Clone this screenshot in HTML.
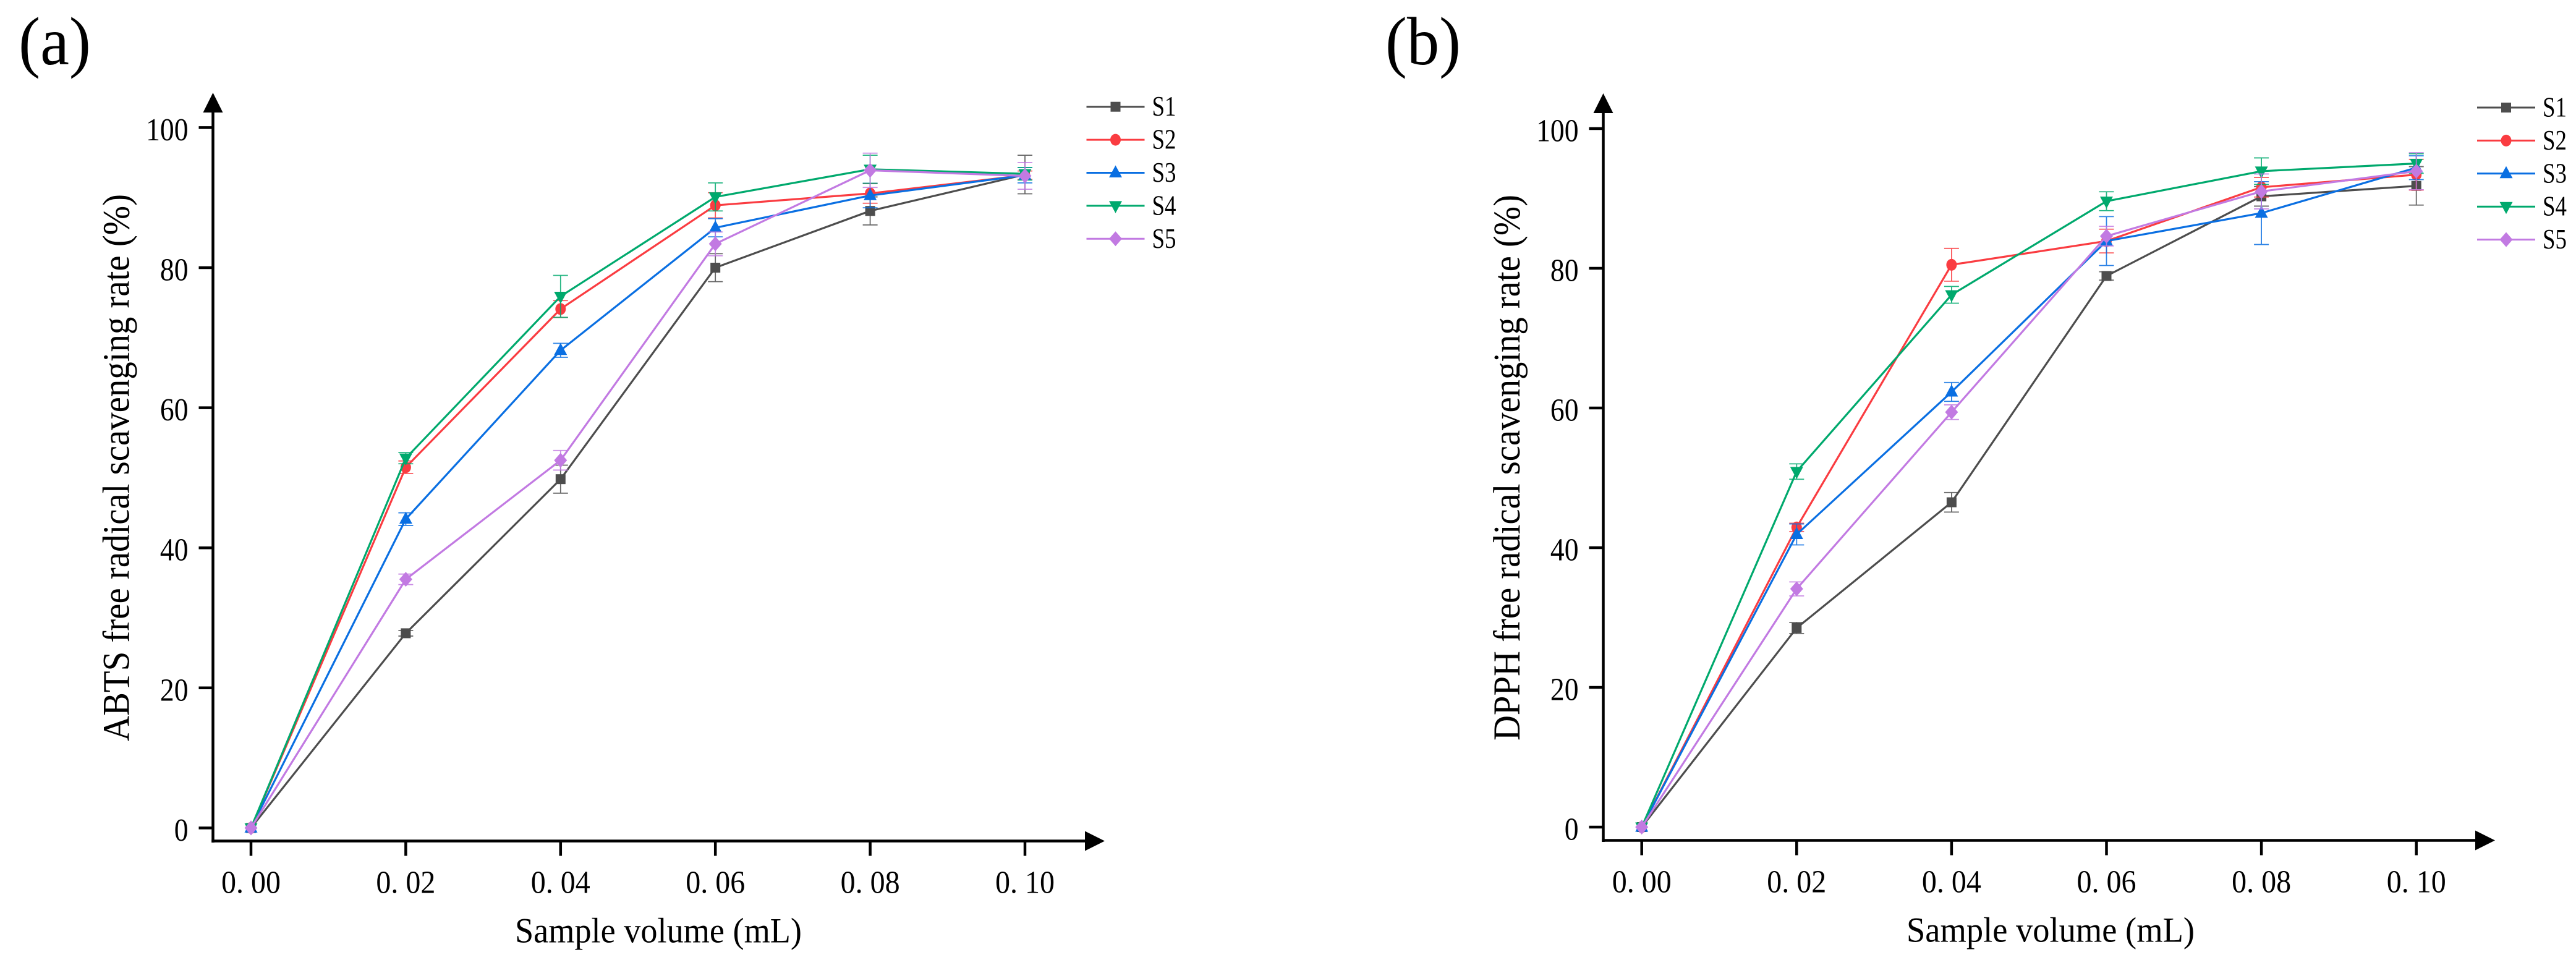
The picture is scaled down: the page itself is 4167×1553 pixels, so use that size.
<!DOCTYPE html>
<html lang="en">
<head>
<meta charset="utf-8">
<title>ABTS and DPPH free radical scavenging rate</title>
<style>
html,body{margin:0;padding:0;background:#fff;}
svg{display:block;}
text{font-family:"Liberation Serif","Times New Roman",serif;fill:#000;}
</style>
</head>
<body>
<svg id="figure" xmlns="http://www.w3.org/2000/svg" width="4167" height="1553" viewBox="0 0 4167 1553"></svg>
<script>
// Shared axis data
const xCategories = [0, 0.02, 0.04, 0.06, 0.08, 0.10];
const xTickLabels = ["0. 00", "0. 02", "0. 04", "0. 06", "0. 08", "0. 10"];
const yTicks = [0, 20, 40, 60, 80, 100];
const yTickLabels = ["0", "20", "40", "60", "80", "100"];
const seriesNames = ["S1", "S2", "S3", "S4", "S5"];

// Panel (a) ABTS: mean values
const abtsS1 = [0, 27.8, 49.8, 80.0, 88.1, 93.3];
const abtsS2 = [0, 51.5, 74.1, 88.9, 90.6, 93.2];
const abtsS3 = [0, 44.1, 68.2, 85.7, 90.3, 93.2];
const abtsS4 = [0, 52.8, 75.9, 90.1, 94.05, 93.4];
const abtsS5 = [0, 35.5, 52.5, 83.4, 93.9, 93.1];
// Panel (a) ABTS: error half-widths
const abtsErrS1 = [0, 0.4, 2.0, 2.0, 2.0, 2.75];
const abtsErrS2 = [0, 0.9, 1.2, 1.8, 1.4, 0.6];
const abtsErrS3 = [0, 0.9, 1.0, 1.3, 1.75, 1.1];
const abtsErrS4 = [0, 0.8, 3.0, 2.0, 2.0, 0.9];
const abtsErrS5 = [0, 0.75, 1.4, 1.7, 2.45, 1.9];

// Panel (b) DPPH: mean values
const dpphS1 = [0, 28.5, 46.5, 78.9, 90.3, 91.8];
const dpphS2 = [0, 42.9, 80.5, 83.9, 91.6, 93.4];
const dpphS3 = [0, 41.9, 62.3, 83.9, 87.9, 94.4];
const dpphS4 = [0, 50.9, 76.2, 89.6, 93.9, 95.0];
const dpphS5 = [0, 34.1, 59.4, 84.6, 91.0, 93.9];
// Panel (b) DPPH: error half-widths
const dpphErrS1 = [0, 0.8, 1.4, 0.6, 1.4, 2.75];
const dpphErrS2 = [0, 0.6, 2.35, 1.7, 1.4, 2.2];
const dpphErrS3 = [0, 1.5, 1.35, 3.5, 4.5, 1.7];
const dpphErrS4 = [0, 1.1, 1.2, 1.35, 1.9, 1.4];
const dpphErrS5 = [0, 1.0, 1.05, 1.4, 2.5, 2.65];

const colors = ["#4d4d4d", "#fa3c41", "#0a6fe2", "#00a96d", "#c27ae2"];
const NS = "http://www.w3.org/2000/svg";
const svg = document.getElementById("figure");

function el(tag, parent, attrs, name) {
  const node = document.createElementNS(NS, tag);
  for (const k in attrs) node.setAttribute(k, attrs[k]);
  
  
  parent.appendChild(node);
  return node;
}
function label(parent, str, x, y, size, len, name, extra) {
  const t = el("text", parent, Object.assign({
    x: x, y: y, "font-size": size, textLength: len, lengthAdjust: "spacingAndGlyphs"
  }, extra || {}), name);
  t.setAttribute("xml:space", "preserve");
  t.textContent = str;
  return t;
}
function marker(parent, kind, cx, cy, color, name) {
  if (kind === 0) return el("rect", parent, {x: cx - 8, y: cy - 8, width: 16, height: 16, fill: color}, name);
  if (kind === 1) return el("ellipse", parent, {cx: cx, cy: cy, rx: 8.5, ry: 9.5, fill: color}, name);
  let d;
  if (kind === 2) d = `M${cx} ${cy - 12}L${cx + 10.5} ${cy + 7.5}L${cx - 10.5} ${cy + 7.5}Z`;
  if (kind === 3) d = `M${cx} ${cy + 12}L${cx + 10.5} ${cy - 7.5}L${cx - 10.5} ${cy - 7.5}Z`;
  if (kind === 4) d = `M${cx} ${cy - 12}L${cx + 10.5} ${cy}L${cx} ${cy + 12}L${cx - 10.5} ${cy}Z`;
  return el("path", parent, {d: d, fill: color}, name);
}

function drawPanel(p) {
  const g = el("g", svg, {}, p.id + "-panel");
  const xPos = v => p.x0 + (v / 0.02) * p.dx;
  const yPos = v => p.y0 - v * p.dy;

  label(g, p.letter, p.letterX, 104, 110, p.letterLen, p.id + "-panel-label");

  // Axes
  el("line", g, {x1: p.axisX, y1: 180, x2: p.axisX, y2: p.axisY + 2.5, stroke: "#000", "stroke-width": 4.5}, p.id + "-y-axis-line");
  el("line", g, {x1: p.axisX - 2.2, y1: p.axisY, x2: p.arrowTip - 30, y2: p.axisY, stroke: "#000", "stroke-width": 4.5}, p.id + "-x-axis-line");
  el("path", g, {d: `M${p.axisX} ${p.arrowTopY}L${p.axisX + 16} ${p.arrowTopY + 32}L${p.axisX - 16} ${p.arrowTopY + 32}Z`, fill: "#000"}, p.id + "-y-axis-arrow");
  el("path", g, {d: `M${p.arrowTip} ${p.axisY}L${p.arrowTip - 32} ${p.axisY - 16}L${p.arrowTip - 32} ${p.axisY + 16}Z`, fill: "#000"}, p.id + "-x-axis-arrow");

  yTicks.forEach((v, i) => {
    const y = yPos(v);
    el("line", g, {x1: p.axisX - 23, y1: y, x2: p.axisX, y2: y, stroke: "#000", "stroke-width": 4.5}, p.id + "-y-tick");
    const s = yTickLabels[i];
    const w = s.length * 22.8;
    label(g, s, p.axisX - 40 - w, y + 20.5, 52, w, p.id + "-y-tick-label");
  });
  xCategories.forEach((v, i) => {
    const x = xPos(v);
    el("line", g, {x1: x, y1: p.axisY, x2: x, y2: p.axisY + 24, stroke: "#000", "stroke-width": 4.5}, p.id + "-x-tick");
    label(g, xTickLabels[i], x - 48, p.axisY + 84, 52, 96, p.id + "-x-tick-label");
  });

  label(g, "Sample volume (mL)", p.xTitleX, p.axisY + 164, 57, p.xTitleLen, p.id + "-x-axis-title");
  label(g, p.yTitle, 0, 0, 61, p.yTitleLen, p.id + "-y-axis-title", {transform: `translate(${p.yTitleX} ${p.yTitleBottom}) rotate(-90)`});

  // Series
  p.values.forEach((vals, s) => {
    const sg = el("g", g, {}, p.id + "-series-" + seriesNames[s].toLowerCase());
    const errs = p.errors[s];
    vals.forEach((v, i) => {
      if (errs[i] <= 0) return;
      const x = xPos(xCategories[i]);
      const top = yPos(v + errs[i]), bot = yPos(v - errs[i]);
      const d = `M${x} ${top}L${x} ${bot}M${x - 12} ${top}L${x + 12} ${top}M${x - 12} ${bot}L${x + 12} ${bot}`;
      el("path", sg, {d: d, fill: "none", stroke: colors[s], "stroke-width": 1.8, opacity: 0.85}, p.id + "-error-bar");
    });
    const pts = vals.map((v, i) => xPos(xCategories[i]) + "," + yPos(v)).join(" ");
    el("polyline", sg, {points: pts, fill: "none", stroke: colors[s], "stroke-width": 3.2, "stroke-linejoin": "round"}, p.id + "-series-line");
    vals.forEach((v, i) => {
      marker(sg, s, xPos(xCategories[i]), yPos(v), colors[s], p.id + "-data-point");
    });
  });

  // Legend
  const lg = el("g", g, {}, p.id + "-legend");
  seriesNames.forEach((n, s) => {
    const y = p.legendY + s * 53.4;
    const eg = el("g", lg, {}, p.id + "-legend-entry-" + n.toLowerCase());
    el("line", eg, {x1: p.legendX, y1: y, x2: p.legendX + 94, y2: y, stroke: colors[s], "stroke-width": 3}, p.id + "-legend-line");
    marker(eg, s, p.legendX + 47, y, colors[s], p.id + "-legend-marker");
    label(eg, n, p.legendX + 106, y + 14.5, 45, 39, p.id + "-legend-label");
  });
}

drawPanel({
  id: "abts", letter: "(a)", letterX: 30, letterLen: 117,
  x0: 406, dx: 250.4, y0: 1339.4, dy: 11.33, axisX: 344.5, axisY: 1360.5, arrowTopY: 150, arrowTip: 1787,
  xTitleX: 833, xTitleLen: 464, yTitleX: 208.5, yTitleBottom: 1199, yTitleLen: 885,
  yTitle: "ABTS free radical scavenging rate (%)", legendX: 1757.5, legendY: 172.7,
  values: [abtsS1, abtsS2, abtsS3, abtsS4, abtsS5],
  errors: [abtsErrS1, abtsErrS2, abtsErrS3, abtsErrS4, abtsErrS5]
});
drawPanel({
  id: "dpph", letter: "(b)", letterX: 2241, letterLen: 122,
  x0: 2655.7, dx: 250.6, y0: 1338, dy: 11.3, axisX: 2593.5, axisY: 1359.5, arrowTopY: 151, arrowTip: 4036,
  xTitleX: 3084, xTitleLen: 466, yTitleX: 2458, yTitleBottom: 1198, yTitleLen: 883,
  yTitle: "DPPH free radical scavenging rate (%)", legendX: 4007, legendY: 174,
  values: [dpphS1, dpphS2, dpphS3, dpphS4, dpphS5],
  errors: [dpphErrS1, dpphErrS2, dpphErrS3, dpphErrS4, dpphErrS5]
});
</script>
</body>
</html>
